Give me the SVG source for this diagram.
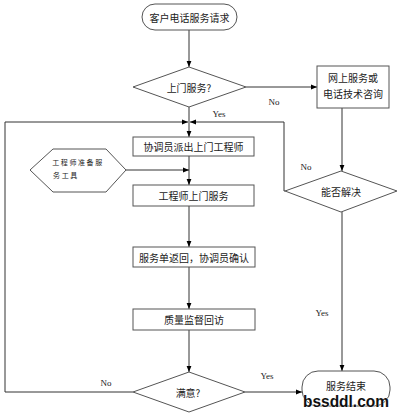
<svg xmlns="http://www.w3.org/2000/svg" width="400" height="416" viewBox="0 0 400 416">
<defs>
<marker id="ah" viewBox="0 0 10 10" refX="10" refY="5" markerWidth="6" markerHeight="6" orient="auto" markerUnits="userSpaceOnUse">
<path d="M0,1 L10,5 L0,9 Z" fill="#000"/>
</marker>
<style>
.s{fill:#fff;stroke:#555;stroke-width:1}
.c{fill:none;stroke:#333;stroke-width:1}
.t{font-family:"Noto Sans CJK SC","Noto Sans",sans-serif;font-size:10px;fill:#222;text-anchor:middle;dominant-baseline:central}
.l{font-family:"Liberation Serif",serif;font-size:9px;fill:#222;text-anchor:middle;dominant-baseline:central}
</style>
</defs>
<rect width="400" height="416" fill="#fff"/>
<g id="connectors">
<path class="c" d="M189,30 V67" marker-end="url(#ah)"/>
<path class="c" d="M246,87 H317" marker-end="url(#ah)"/>
<path class="c" d="M189,107 V137" marker-end="url(#ah)"/>
<path class="c" d="M189,156 V185" marker-end="url(#ah)"/>
<path class="c" d="M126,170 H189" marker-end="url(#ah)"/>
<path class="c" d="M189,206 V247" marker-end="url(#ah)"/>
<path class="c" d="M189,267 V309" marker-end="url(#ah)"/>
<path class="c" d="M189,330 V372" marker-end="url(#ah)"/>
<path class="c" d="M342,108 V171" marker-end="url(#ah)"/>
<path class="c" d="M342,212 V371" marker-end="url(#ah)"/>
<path class="c" d="M245,392 H302" marker-end="url(#ah)"/>
<path class="c" d="M133,392 H5 V122 H188" marker-end="url(#ah)"/>
<path class="c" d="M285,191 H284 V122 H190" marker-end="url(#ah)"/>
<text class="l" x="219" y="114">Yes</text>
<text class="l" x="274" y="102">No</text>
<text class="l" x="306" y="167">No</text>
<text class="l" x="322" y="313">Yes</text>
<text class="l" x="106" y="383">No</text>
<text class="l" x="267" y="376">Yes</text>
</g>
<g id="start">
<rect class="s" x="142" y="4" width="95" height="26" rx="13"/>
<text class="t" x="189.5" y="17">客户电话服务请求</text>
</g>
<g id="d-onsite">
<polygon class="s" points="189,67 246,87 189,107 133,87"/>
<text class="t" x="189" y="87">上门服务?</text>
</g>
<g id="online">
<rect class="s" x="317" y="66" width="72" height="42"/>
<text class="t" x="353" y="77">网上服务或</text>
<text class="t" x="353" y="93">电话技术咨询</text>
</g>
<g id="d-solve">
<polygon class="s" points="341,171 397,191 341,212 285,191"/>
<text class="t" x="341" y="191">能否解决</text>
</g>
<g id="dispatch">
<rect class="s" x="133" y="137" width="121" height="19"/>
<text class="t" x="193.5" y="146.5">协调员派出上门工程师</text>
</g>
<g id="prepare">
<polygon class="s" points="30,170 53,149 106,149 126,170 106,192 53,192"/>
<text class="t" x="78" y="162" style="font-size:7px;letter-spacing:1.6px">工程师准备服</text>
<text class="t" x="66" y="175" style="font-size:7px;letter-spacing:1.6px">务工具</text>
</g>
<g id="onsite">
<rect class="s" x="133" y="185" width="121" height="21"/>
<text class="t" x="193.5" y="195.5">工程师上门服务</text>
</g>
<g id="return">
<rect class="s" x="133" y="247" width="122" height="20"/>
<text class="t" x="194" y="257">服务单返回，协调员确认</text>
</g>
<g id="quality">
<rect class="s" x="133" y="309" width="122" height="21"/>
<text class="t" x="194" y="319.5">质量监督回访</text>
</g>
<g id="d-satisfied">
<polygon class="s" points="189,372 245,392 189,412 133,392"/>
<text class="t" x="188" y="392">满意?</text>
</g>
<g id="end">
<rect class="s" x="302" y="371" width="88" height="35" rx="16"/>
<text class="t" x="346" y="385">服务结束</text>
<text x="303" y="407" textLength="86" lengthAdjust="spacingAndGlyphs" style="font-family:'Liberation Sans',sans-serif;font-weight:bold;font-size:17px;fill:#111;stroke:#fff;stroke-width:0.8;paint-order:stroke">bssddl.com</text>
</g>
</svg>
